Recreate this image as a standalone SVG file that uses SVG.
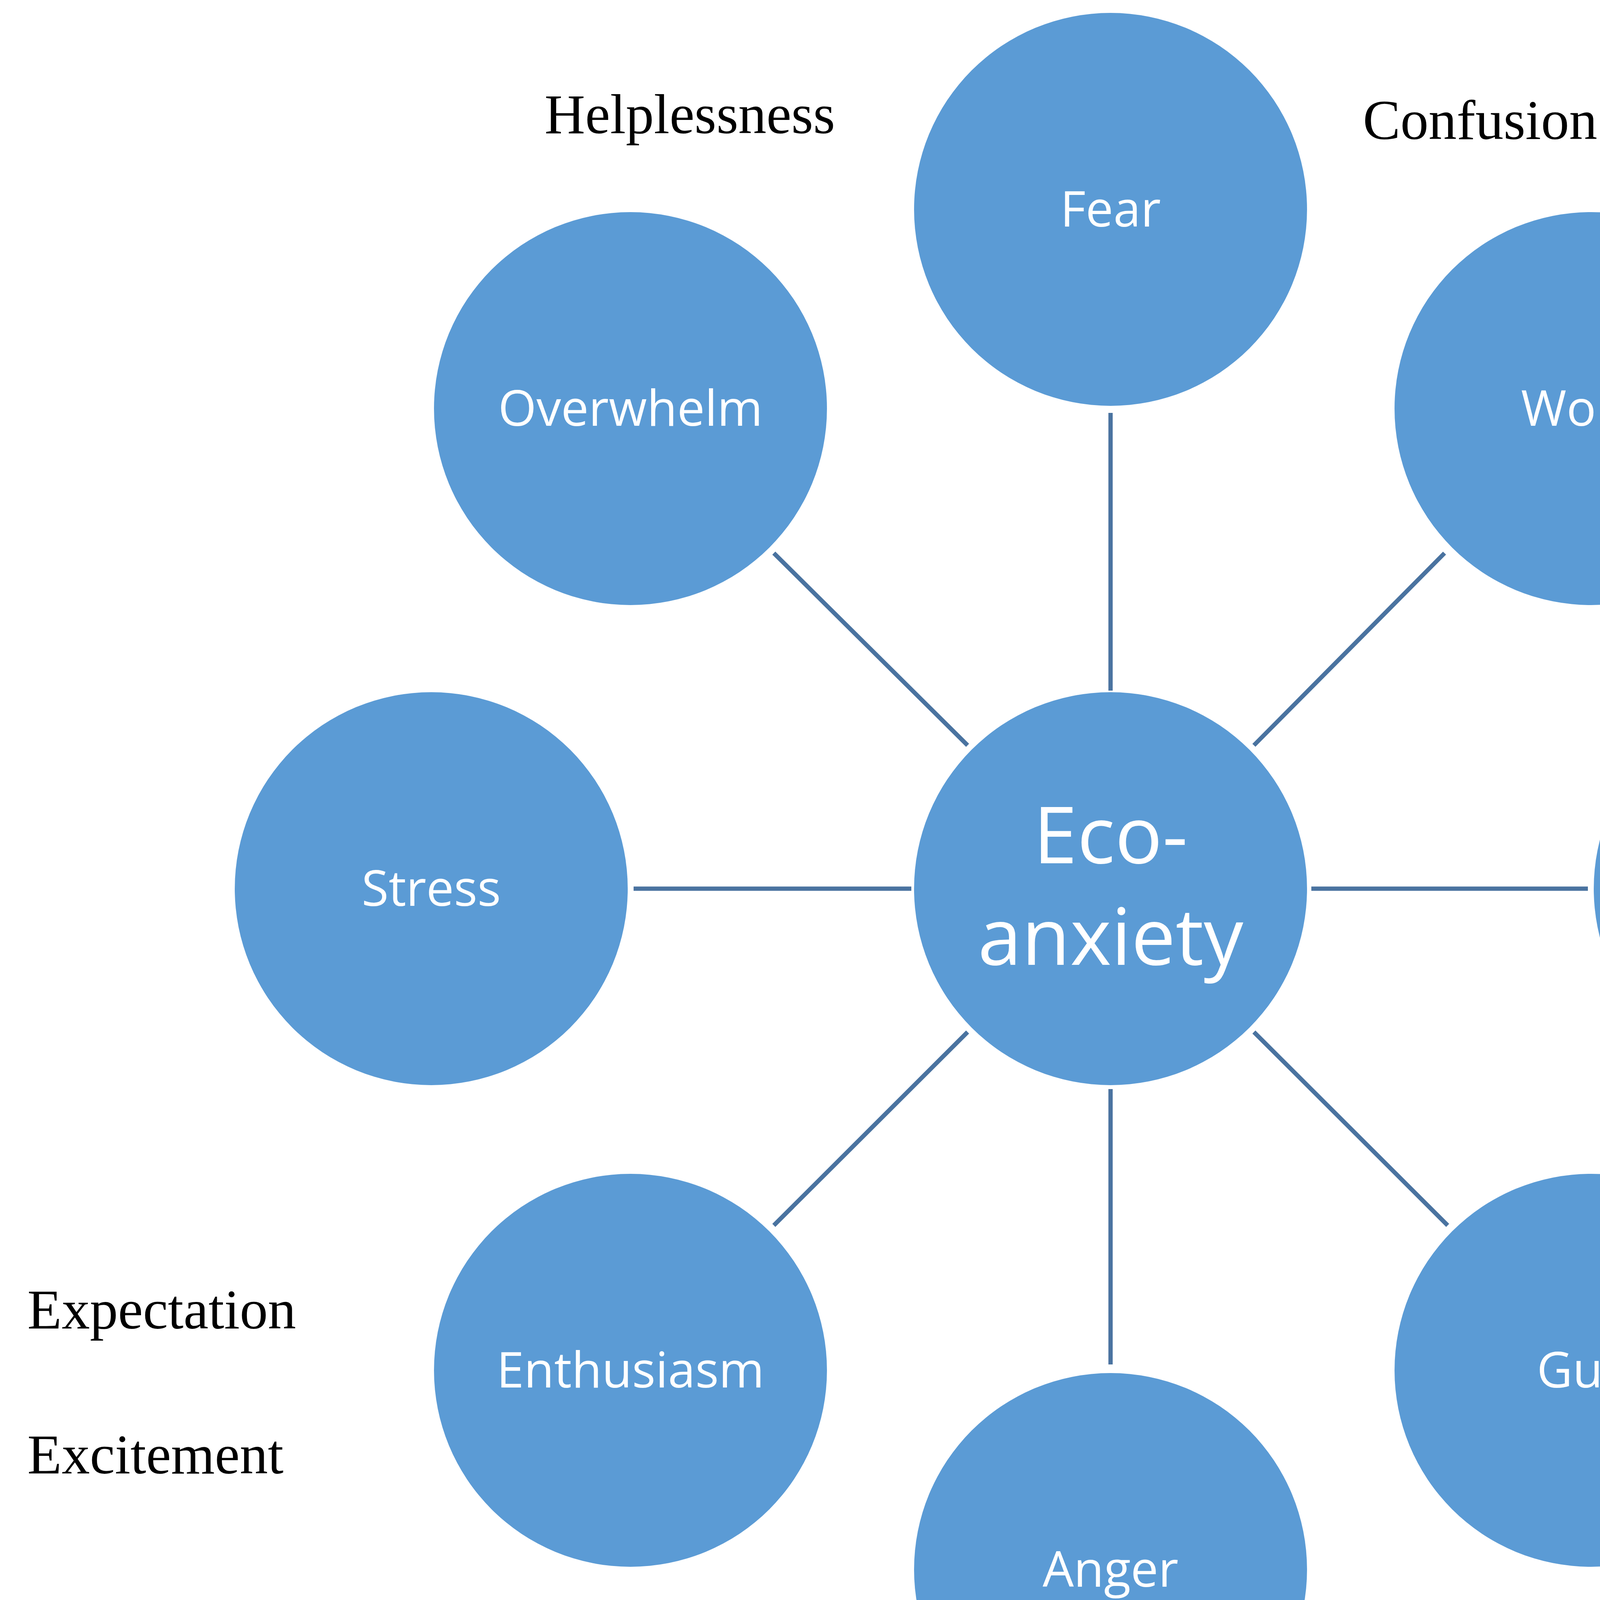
<svg xmlns="http://www.w3.org/2000/svg" width="5753" height="4585" viewBox="0 0 5753 4585">
<style>
.n{fill:#5b9bd5}
.l{fill:#fff;font-family:"Open Sans","Liberation Sans",sans-serif;font-size:126px;text-anchor:middle}
.c{stroke:#4a73a0;stroke-width:11;fill:none}
.o{fill:#000;font-family:"Liberation Serif",serif;font-size:144px}
</style>
<rect width="5753" height="4585" fill="#fff"/>
<g id="connectors">
<line class="c" x1="2843" y1="1057" x2="2843" y2="1768"/>
<line class="c" x1="2843" y1="2788" x2="2843" y2="3493"/>
<line class="c" x1="1622" y1="2275" x2="2333" y2="2275"/>
<line class="c" x1="3357" y1="2275" x2="4065" y2="2275"/>
<line class="c" x1="1981" y1="1416" x2="2477" y2="1908"/>
<line class="c" x1="3698" y1="1416" x2="3210" y2="1908"/>
<line class="c" x1="1981" y1="3137" x2="2477" y2="2642"/>
<line class="c" x1="3210" y1="2642" x2="3706" y2="3137"/>
</g>
<g id="eco"><circle class="n" cx="2843" cy="2275" r="503"/><text class="l" x="2843" y="2210" style="font-size:202px">Eco-</text><text class="l" x="2843" y="2470" style="font-size:202px">anxiety</text></g>
<g id="fear"><circle class="n" cx="2843" cy="536" r="503"/><text class="l" x="2843" y="580">Fear</text></g>
<g id="worry"><circle class="n" cx="4073" cy="1046" r="503"/><text class="l" x="4073" y="1090">Worry</text></g>
<g id="overwhelm"><circle class="n" cx="1614" cy="1046" r="503"/><text class="l" x="1614" y="1090">Overwhelm</text></g>
<g id="stress"><circle class="n" cx="1104" cy="2275" r="503"/><text class="l" x="1104" y="2319">Stress</text></g>
<g id="grief"><circle class="n" cx="4583" cy="2275" r="503"/><text class="l" x="4583" y="2319">Grief</text></g>
<g id="enthusiasm"><circle class="n" cx="1614" cy="3508" r="503"/><text class="l" x="1614" y="3552">Enthusiasm</text></g>
<g id="guilt"><circle class="n" cx="4073" cy="3508" r="503"/><text class="l" x="4073" y="3552">Guilt</text></g>
<g id="anger"><circle class="n" cx="2843" cy="4018" r="503"/><text class="l" x="2843" y="4062">Anger</text></g>
<g id="labels">
<text class="o" x="1394" y="341">Helplessness</text>
<text class="o" x="3489" y="356">Confusion</text>
<text class="o" x="4671" y="1519">Shock</text>
<text class="o" x="5283" y="1952">Trauma</text>
<text class="o" x="4865" y="3229">Solastalgia</text>
<text class="o" x="70" y="3401">Expectation</text>
<text class="o" x="70" y="3772">Excitement</text>
<text class="o" x="3658" y="4395">Shame</text>
</g>
</svg>
